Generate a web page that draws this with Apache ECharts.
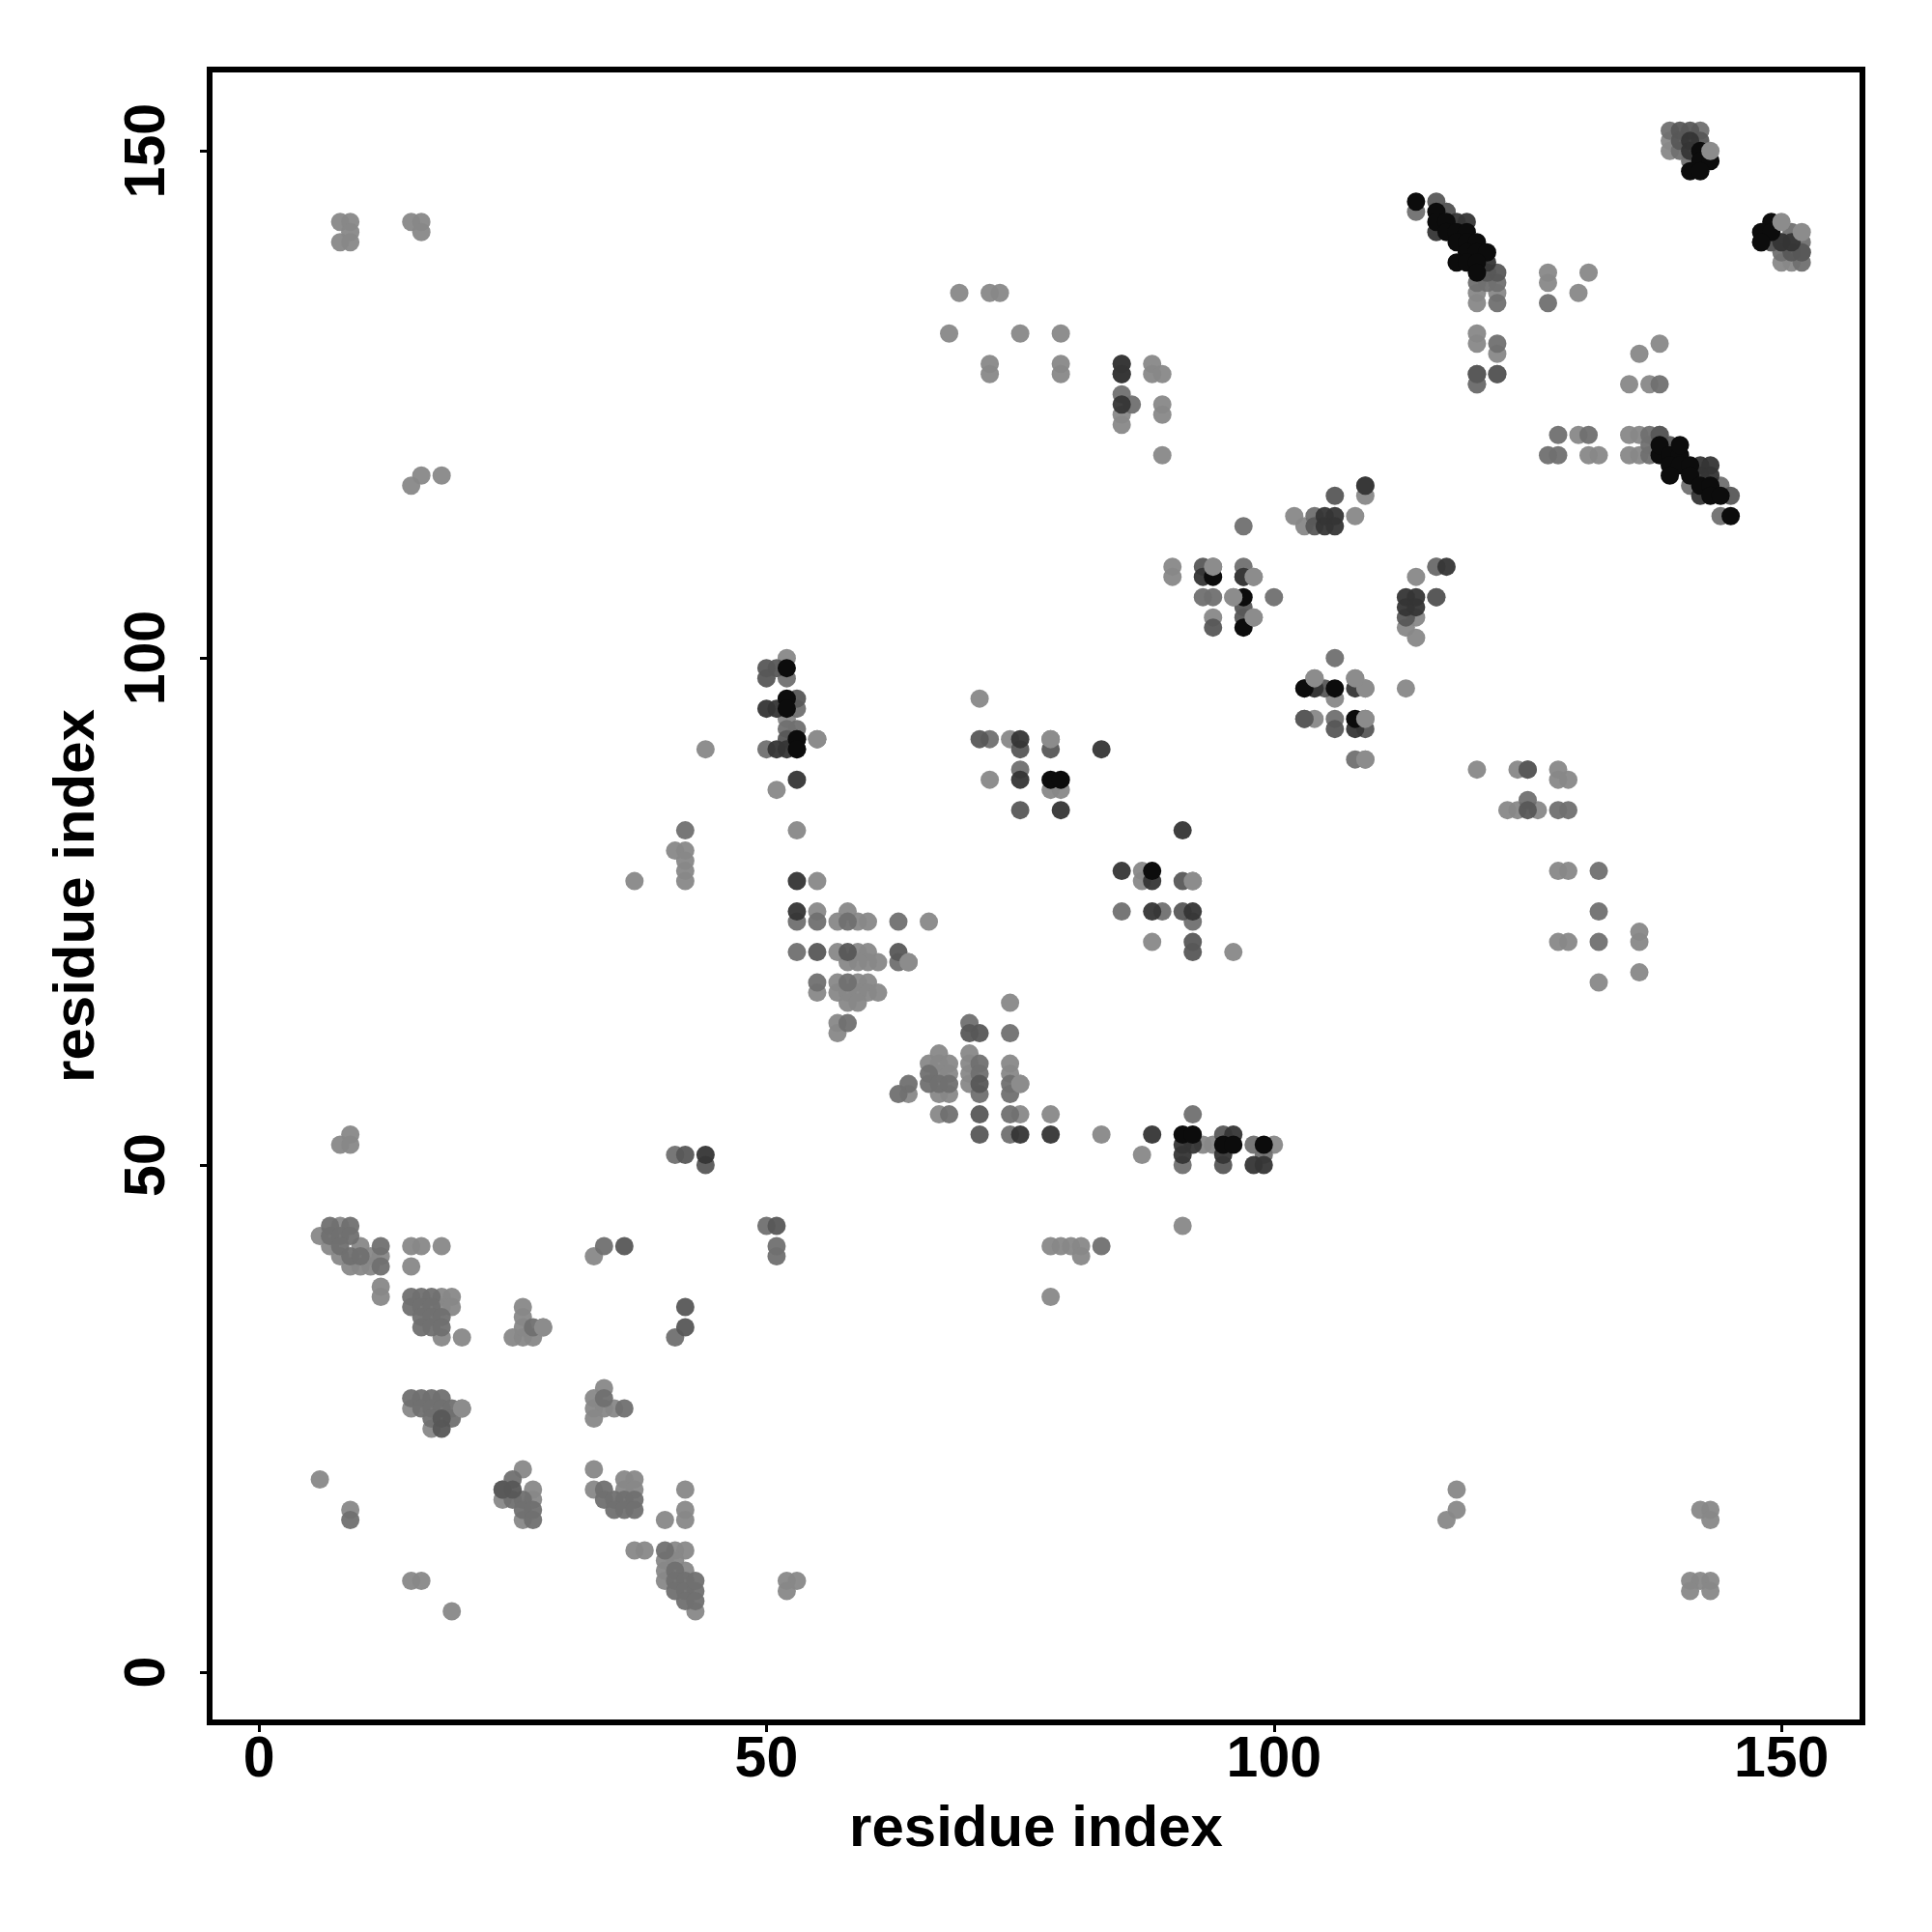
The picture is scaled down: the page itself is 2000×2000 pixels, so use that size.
<!DOCTYPE html>
<html><head><meta charset="utf-8">
<style>html,body{margin:0;padding:0;background:#fff}#c{width:2000px;height:2000px}</style>
<script src="https://cdn.jsdelivr.net/npm/echarts@6/dist/echarts.min.js"></script>
</head><body><div id="c"></div>
<script>
const tickValues=[0,50,100,150];
const xTitle='residue index', yTitle='residue index';
const lightPts=[[9,53],[8,52],[9,52],[6,43],[8,44],[7,42],[8,41],[10,42],[11,41],[12,41],[9,40],[10,40],[11,40],[15,42],[16,42],[18,42],[15,40],[12,38],[12,37],
[18,37],[19,37],[18,36],[19,36],[20,33],[18,33],[26,36],[26,35],[28,34],[25,33],[26,33],[27,33],[26,34],[33,41],
[15,26],[20,26],[17,24],[34,28],[33,27],[33,26],[34,26],[35,26],[33,25],[6,19],[26,20],[24,17],[27,18],[27,17],[26,15],[33,20],[33,18],[36,19],[37,19],[36,18],[37,18],[37,12],[38,12],[42,16],[42,15],[40,15],[42,18],[41,12],[42,12],[41,11],[40,11],[40,10],[40,9],[42,10],[43,6],[52,9],[53,9],[52,8],[15,9],[16,9],[19,6],[9,16],
[8,143],[9,143],[8,141],[9,142],[9,141],[15,143],[16,143],[16,142],[15,117],[16,118],[18,118],
[44,91],[37,78],[41,81],[42,81],[42,80],[42,79],[42,78],[51,87],[53,83],[52,100],[52,94],[55,78],[55,75],[58,75],[66,74],[59,74],[60,74],[57,74],[57,71],[59,71],[60,71],[61,70],[60,70],[64,70],[59,70],[58,70],[57,68],[60,68],[59,68],[55,67],[57,67],[58,67],[59,67],[60,67],[61,67],[58,66],[59,66],[74,66],[57,64],[57,63],[67,61],[70,61],[66,60],[67,60],[68,60],[70,60],[74,60],[67,59],[68,59],[70,59],[74,59],[70,58],[75,58],[64,57],[67,57],[68,57],[67,55],[75,55],[78,55],[83,53],[87,51],[93,52],[94,52],[100,52],[91,44],[78,42],[79,42],[80,42],[81,42],[81,41],[78,37],[71,96],[74,92],[72,88],[78,87],[79,87],[87,79],[87,78],[88,72],[96,71],
[69,136],[72,136],[73,136],[68,132],[75,132],[79,132],[72,129],[72,128],[79,129],[79,128],[88,129],[88,128],[89,128],[85,124],[85,123],[89,125],[89,124],[89,120],
[90,109],[90,108],[98,108],[98,104],[94,104],[96,106],[102,114],[103,113],[108,114],[109,116],[104,98],[108,98],[106,96],[104,94],[109,90],[114,108],[114,104],[113,103],[114,102],[116,109],[113,97],
[120,89],[124,89],[128,89],[128,88],[129,88],[123,85],[124,85],[126,85],[128,79],[129,79],[128,72],[129,72],[136,73],[136,72],[136,69],[132,68],
[120,136],[122,136],[120,135],[120,132],[120,131],[127,137],[131,138],[130,136],[136,130],[138,131],[135,127],[137,127],[127,138],[120,127],[122,130],[139,151],[139,150],[150,139],[151,139],[130,122],[131,120],[132,120],[135,122],[136,122],[135,120],[136,120],[118,18],[118,16],[117,15],[142,16],[143,16],[143,15],[141,9],[142,9],[143,9],[141,8],[143,8]];
const midPts=[[7,44],[9,44],[7,43],[8,43],[9,43],[8,42],[12,42],[9,41],[10,41],[12,40],[15,37],[16,37],[17,37],[15,36],[16,36],[17,36],[16,35],[17,35],[18,35],[16,34],[17,34],[18,34],[27,34],
[15,27],[16,27],[17,27],[18,27],[16,26],[17,26],[18,26],[19,26],[17,25],[19,25],[34,42],[41,33],[34,27],[36,26],[9,15],[25,19],[24,18],[25,17],[26,17],[26,16],[27,16],[27,15],[34,18],[34,17],[35,17],[36,17],[37,17],[35,16],[36,16],[37,16],[40,12],[41,10],[41,9],[42,9],[41,8],[42,8],[43,8],[42,7],[43,7],[43,9],
[41,51],[50,44],[51,41],[51,42],[42,83],[52,98],[50,91],[55,92],[53,93],[52,93],[53,95],[53,74],[55,74],[58,74],[63,74],[53,71],[63,70],[55,68],[58,68],[58,64],[70,64],[74,63],[66,59],[66,58],[67,58],[68,58],[64,58],[63,57],[74,58],[74,57],[71,60],[71,59],[71,57],[83,42],[141,117],[68,55],[74,55],[74,53],[92,55],[91,50],[99,51],[98,52],[72,92],[78,92],[75,89],[85,75],[89,75],[92,78],[92,74],[97,109],[97,113],[93,106],[94,106],[100,106],[94,109],[106,100],[103,94],[106,94],[109,94],[108,90],[109,97],[97,108],[104,114],[109,117],[116,106],[116,109],
[125,89],[125,86],[128,85],[129,85],[132,79],[132,75],[132,72],[122,135],[127,135],[122,137],[121,137],[120,137],[122,131],[122,128],[120,127],[138,127],[138,122],[127,120],[128,120],[128,122],[131,122],[137,122],[137,120],[137,121],[85,126],[86,125],[85,129],[152,140],[151,141],[150,140],[139,152],[142,152],[140,150],[141,149],[144,117],[144,114],[117,144],[114,144],[120,128],[152,139],[152,141],[151,142],[149,141]];
const darkPts=[[36,42],[42,36],[42,34],[24,18],[25,18],[18,25],[18,24],[51,44],[42,51],[44,50],[50,98],[51,99],[50,99],[53,96],[53,91],[52,92],[71,92],[75,91],[71,63],[70,63],[71,58],[71,55],[71,53],[78,91],[75,85],[91,78],[92,72],[92,71],[91,75],[55,71],[58,71],[63,71],[95,53],[95,50],[93,109],[97,105],[97,104],[94,103],[103,94],[106,93],[109,93],[104,97],[105,97],[106,116],[104,113],[113,104],[116,106],[125,85],[121,138],[122,138],[122,128],[120,128],[125,89],[116,145],[117,144],[140,152],[141,152],[140,151],[142,151],[139,121],[138,122],[151,140],[152,140],[150,141],[149,141],[85,128],[145,116]];
const darkerPts=[[44,51],[50,95],[51,95],[53,88],[53,92],[51,91],[52,91],[53,78],[53,75],[83,91],[75,92],[75,88],[79,85],[88,53],[75,53],[78,53],[91,52],[92,52],[91,51],[95,51],[96,53],[98,50],[99,50],[85,79],[88,78],[88,75],[91,83],[92,75],[93,108],[97,108],[103,97],[104,97],[108,97],[108,93],[109,117],[105,114],[106,114],[105,113],[106,113],[113,106],[114,106],[113,105],[114,105],[117,109],[116,142],[121,139],[118,143],[119,143],[142,119],[143,119],[142,118],[143,118],[142,116],[85,125],[85,129],[85,128],[141,151],[141,150],[150,141],[151,141],[148,141]];
const blackPts=[[52,99],[52,96],[52,95],[53,92],[53,91],[78,88],[79,88],[88,79],[91,53],[92,53],[95,52],[96,52],[99,52],[94,108],[97,106],[97,103],[103,97],[106,97],[108,94],
[116,144],[116,143],[117,143],[117,142],[118,142],[119,142],[118,141],[119,141],[120,141],[119,140],[120,140],[121,140],[118,139],[119,139],[120,139],[120,138],[114,145],[138,120],[138,121],[139,120],[140,120],[140,121],[139,119],[140,119],[141,119],[139,118],[141,118],[142,117],[143,117],[143,116],[144,116],[145,114],[149,143],[148,142],[149,142],[148,141],[142,150],[142,149],[143,149],[141,148],[142,148]];
const lightOnTop=[[143,150],[150,143],[152,142],[98,108],[98,104],[94,109],[109,94],[109,97],[75,58],[64,70],[20,26],[28,34],[55,92],[78,92],[92,78],[104,98],[108,98],[96,106],[109,90]];

const shades=[
 ['light',lightPts,'#888888',0.95],
 ['mid',midPts,'#707070',0.95],
 ['dark',darkPts,'#575757',0.95],
 ['darker',darkerPts,'#353535',0.95],
 ['black',blackPts,'#0c0c0c',1],
 ['lightTop',lightOnTop,'#8c8c8c',1]
];
const chart=echarts.init(document.getElementById('c'),null,{renderer:'canvas'});
const font='"Liberation Sans", Arial, sans-serif';
function axis(name,rot,gap,lab,mn,mx){return {type:'value',min:mn,max:mx,name:name,nameLocation:'middle',nameGap:gap,nameRotate:rot,
 nameTextStyle:{fontFamily:font,fontWeight:'bold',fontSize:60,color:'#000'},
 axisLine:{show:false,onZero:false},splitLine:{show:false},
 axisTick:{show:true,customValues:tickValues,length:10,lineStyle:{color:'#000',width:3}},
 axisLabel:{show:true,customValues:tickValues,margin:lab,rotate:rot,fontFamily:font,fontWeight:'bold',fontSize:59,color:'#000',verticalAlign:rot?'middle':'top',align:'center'}};}
chart.setOption({animation:false,backgroundColor:'#fff',
 grid:{left:217,top:72,width:1711,height:1711,show:true,borderColor:'#000',borderWidth:6,backgroundColor:'transparent',containLabel:false},
 xAxis:axis(xTitle,0,81,10,-4.86,157.98),
 yAxis:axis(yTitle,90,107,63,-4.95,158.02),
 series:shades.map(s=>({name:s[0],type:'scatter',data:s[1],symbol:'circle',symbolSize:19,clip:false,
   itemStyle:{color:s[2],opacity:s[3]},silent:true}))
});
</script></body></html>
